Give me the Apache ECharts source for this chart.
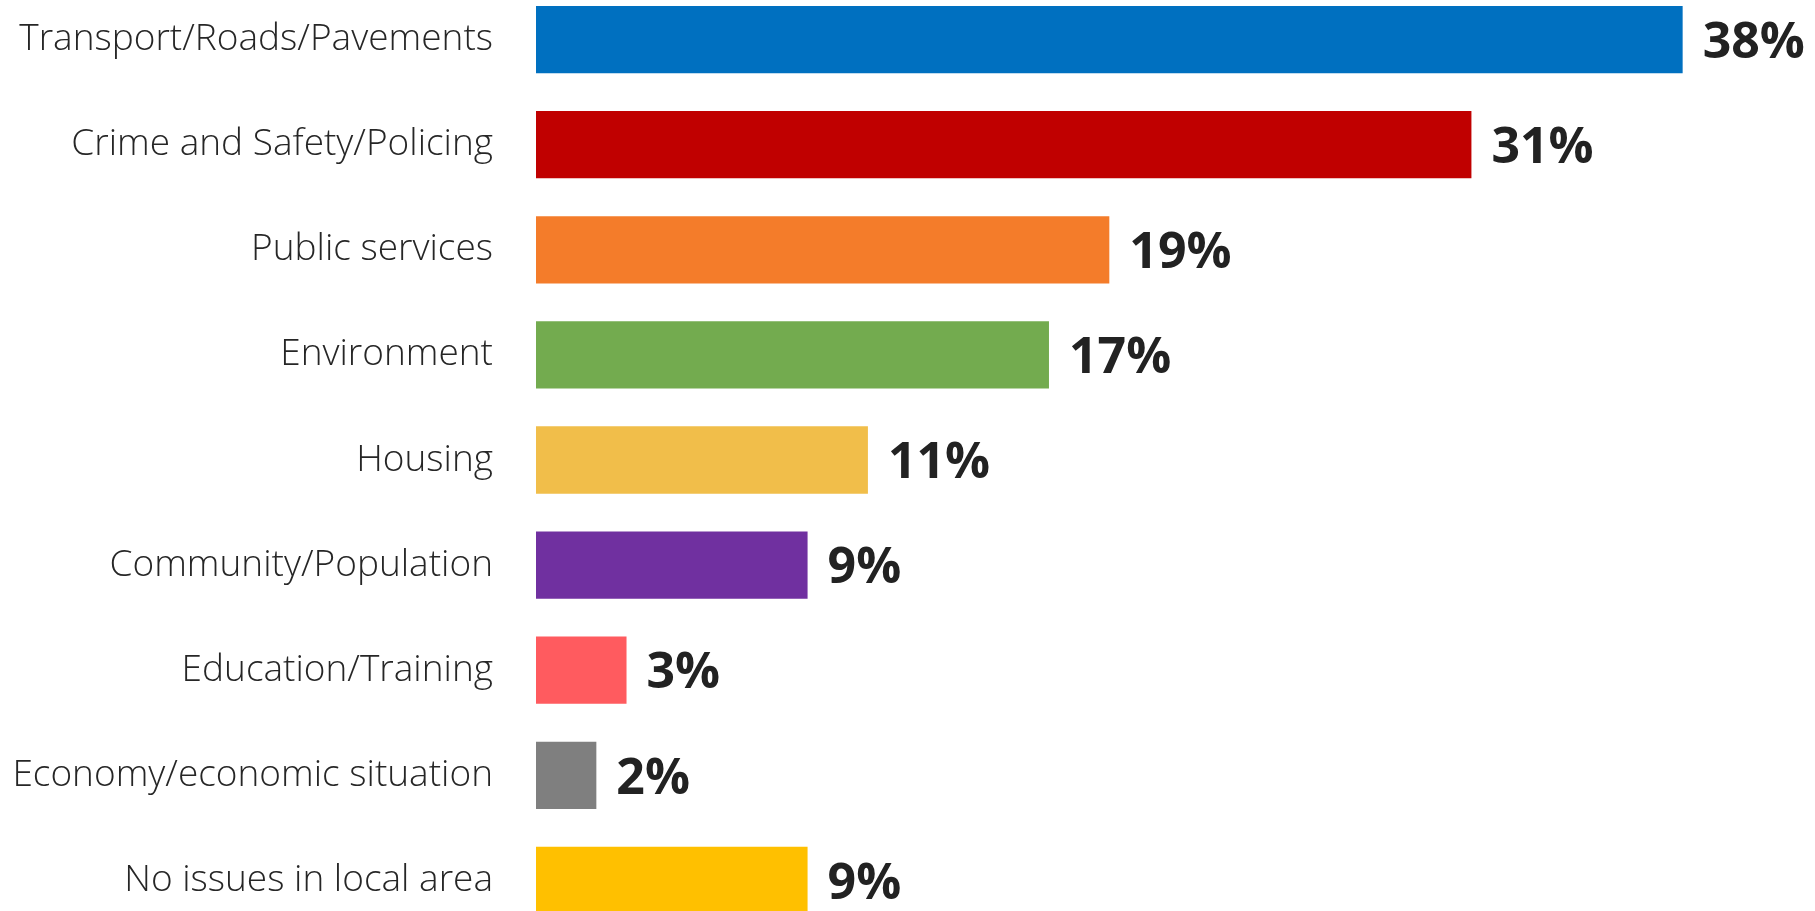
<!DOCTYPE html>
<html>
<head>
<meta charset="utf-8">
<script src="https://cdn.jsdelivr.net/npm/echarts@6/dist/echarts.min.js"></script>
<style>
html,body{margin:0;padding:0;background:#fff;overflow:hidden;width:1815px;height:911px;}
#chart{width:1815px;height:960px;margin-top:-13px;}
</style>
</head>
<body>
<div id="chart"></div>
<script>
const categories = [
  "Transport/Roads/Pavements",
  "Crime and Safety/Policing",
  "Public services",
  "Environment",
  "Housing",
  "Community/Population",
  "Education/Training",
  "Economy/economic situation",
  "No issues in local area"
];
const values = [38, 31, 19, 17, 11, 9, 3, 2, 9];
const barColors = ["#0070C0", "#C00000", "#F47C2A", "#73AB4F", "#F1BE4A", "#7030A0", "#FF5B5F", "#7F7F7F", "#FFC000"];

const chart = echarts.init(document.getElementById('chart'), null, {renderer: 'canvas'});
chart.setOption({
  animation: false,
  backgroundColor: '#ffffff',
  grid: {left: 536, right: 72, top: 0, height: 946, containLabel: false},
  xAxis: {
    type: 'value', min: 0, max: 40, show: false
  },
  yAxis: {
    type: 'category', inverse: true, data: categories,
    axisLine: {show: false}, axisTick: {show: false}, splitLine: {show: false},
    axisLabel: {
      margin: 43, color: '#262626', fontSize: 37, padding: [5, 0, 0, 0],
      fontFamily: '"Open Sans", "Noto Sans", sans-serif', fontWeight: 300
    }
  },
  series: [{
    type: 'bar',
    barCategoryGap: '36%',
    data: values.map((v, i) => ({value: v, itemStyle: {color: barColors[i]}})),
    label: {
      show: true, position: 'right', distance: 20, offset: [0, 4],
      formatter: '{c}%', color: '#222222', fontSize: 50, fontWeight: 'bold',
      fontFamily: '"Open Sans", "Noto Sans", sans-serif'
    }
  }]
});
</script>
</body>
</html>
